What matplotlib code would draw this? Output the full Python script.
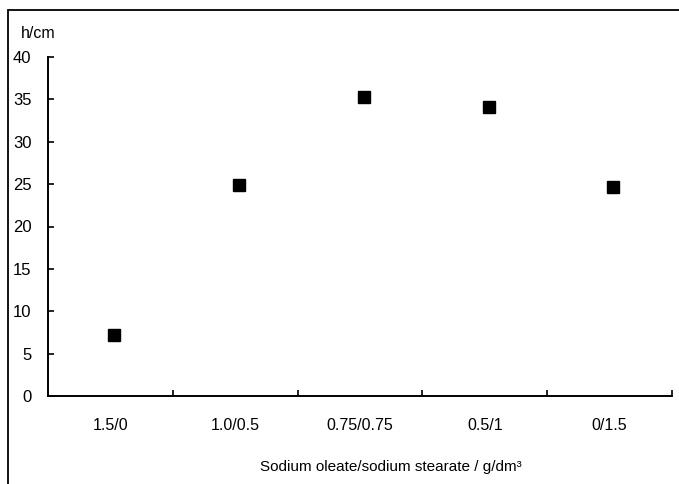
import numpy as np
import matplotlib.pyplot as plt
from matplotlib.patches import Rectangle

plt.rcParams['font.family'] = ['Liberation Sans', 'DejaVu Sans']

# foam height for each oleate/stearate mixture
mixtures = ['1.5/0', '1.0/0.5', '0.75/0.75', '0.5/1', '0/1.5']
height_cm = [7.2, 24.9, 35.3, 34.1, 24.7]
y_ticks = [0, 5, 10, 15, 20, 25, 30, 35, 40]

W, H = 679, 484
fig = plt.figure(figsize=(W / 100, H / 100), dpi=100)
ax = fig.add_axes([48 / W, 1 - 396 / H, (672 - 48) / W, (396 - 57) / H])

pos = np.arange(len(mixtures))
ax.plot(pos + 0.03, height_cm, 's', color='black', markersize=9, clip_on=False)

ax.set_xlim(-0.5, len(mixtures) - 0.5)
ax.set_ylim(0, 40)

# separator ticks between the categories, labels in the middle
ax.set_xticks(pos + 0.5)
ax.set_xticklabels([])
ax.set_xticks(pos, minor=True)
ax.set_xticklabels(mixtures, minor=True, fontsize=11.5)
ax.tick_params(axis='x', which='major', direction='in', length=4, width=1.2)
ax.tick_params(axis='x', which='minor', length=0, pad=16)

ax.set_yticks(y_ticks)
ax.set_yticklabels([str(v) for v in y_ticks], fontsize=12)
ax.tick_params(axis='y', direction='in', length=4, width=1.2, pad=12)

for side in ['top', 'right']:
    ax.spines[side].set_visible(False)
for side in ['left', 'bottom']:
    ax.spines[side].set_linewidth(1.4)

ax.set_xlabel('Sodium oleate/sodium stearate / g/dm³', fontsize=11)
ax.xaxis.set_label_coords(0.55, -0.19)
fig.text(21 / W, 1 - 34 / H, 'h/cm', fontsize=11.5, va='center', ha='left')

# frame around the whole figure, open to the right and bottom
fig.patches.append(Rectangle((8 / W, -0.1), 1.2, 1 - 10 / H + 0.1,
                             transform=fig.transFigure, fill=False,
                             edgecolor='black', linewidth=1.3))

fig.savefig('out.png', dpi=100)
